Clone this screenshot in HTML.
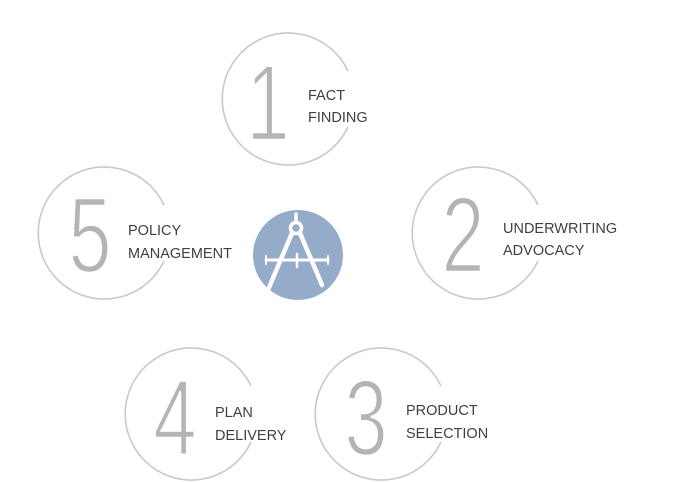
<!DOCTYPE html>
<html><head><meta charset="utf-8"><style>
html,body{margin:0;padding:0;background:#fff;width:690px;height:482px;overflow:hidden}
svg{display:block}
.d{font-family:"Liberation Sans",sans-serif;font-size:108px;fill:#b4b4b4;stroke:#fff;stroke-width:2.5;paint-order:normal;text-anchor:middle}
.l{font-family:"Liberation Sans",sans-serif;font-size:14.5px;fill:#404040}
.c{fill:none;stroke:#c9c9c9;stroke-width:1.6}
</style></head><body>
<svg width="690" height="482" viewBox="0 0 690 482">
<path class="c" d="M348 127 A66 66 0 1 1 348 71"/>
<path class="c" d="M538 261 A66 66 0 1 1 538 205"/>
<path class="c" d="M164 261 A66 66 0 1 1 164 205"/>
<path class="c" d="M251 442 A66 66 0 1 1 251 386"/>
<path class="c" d="M441 442 A66 66 0 1 1 441 386"/>
<g transform="translate(268,140) scale(0.72,1)"><text class="d" x="0" y="0">1</text></g>
<g transform="translate(463,272) scale(0.72,1)"><text class="d" x="0" y="0">2</text></g>
<g transform="translate(90,272) scale(0.72,1)"><text class="d" x="0" y="0">5</text></g>
<g transform="translate(175,455) scale(0.72,1)"><text class="d" x="0" y="0">4</text></g>
<g transform="translate(366,455) scale(0.72,1)"><text class="d" x="0" y="0">3</text></g>
<text class="l" x="308" y="100">FACT</text>
<text class="l" x="308" y="122">FINDING</text>
<text class="l" x="503" y="233">UNDERWRITING</text>
<text class="l" x="503" y="255">ADVOCACY</text>
<text class="l" x="128" y="235">POLICY</text>
<text class="l" x="128" y="258">MANAGEMENT</text>
<text class="l" x="215" y="417">PLAN</text>
<text class="l" x="215" y="440">DELIVERY</text>
<text class="l" x="406" y="415">PRODUCT</text>
<text class="l" x="406" y="438">SELECTION</text>
<circle cx="298" cy="255" r="45" fill="#94acc9"/>
<g stroke="#fff" fill="none" stroke-linecap="round">
<line x1="296" y1="214" x2="296" y2="221" stroke-width="3.5"/>
<circle cx="296" cy="228" r="5.5" stroke-width="3.5"/>
<path d="M292 233 L268 290" stroke-width="4.5"/>
<path d="M300 233 L322 285" stroke-width="4.5"/>
<line x1="266" y1="260" x2="328" y2="260" stroke-width="3"/>
<line x1="297" y1="254" x2="297" y2="267" stroke-width="2.5"/>
<line x1="266" y1="256" x2="266" y2="264" stroke-width="2"/>
<line x1="328" y1="256" x2="328" y2="264" stroke-width="2"/>
</g>
</svg>
</body></html>
